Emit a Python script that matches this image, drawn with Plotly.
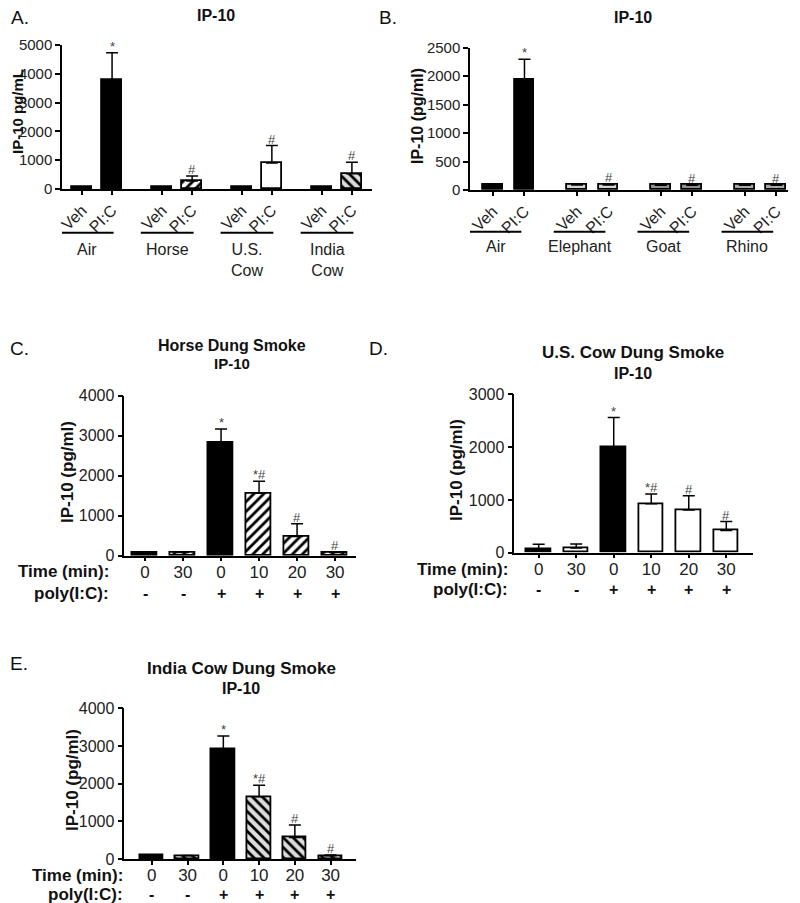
import plotly.graph_objects as go

# page body has an 8px margin; the figure starts at (8, 8) in the window
PAGE_W, PAGE_H, BODY = 800, 903, 8
W, H = PAGE_W - 2 * BODY, PAGE_H - BODY

# ---------------- data ----------------
A_groups = ["Air", "Horse", "U.S.<br>Cow", "India<br>Cow"]
A_veh = [60, 60, 60, 60]
A_veh_err = [8, 8, 10, 10]
A_pic = [3790, 280, 900, 530]
A_pic_err = [940, 170, 610, 400]
A_sig = ["*", "#", "#", "#"]

B_groups = ["Air", "Elephant", "Goat", "Rhino"]
B_veh = [85, 90, 85, 85]
B_veh_err = [8, 10, 8, 8]
B_pic = [1945, 90, 85, 85]
B_pic_err = [350, 12, 10, 10]
B_sig = ["*", "#", "#", "#"]

dose_labels = ["Veh", "PI:C"]
time_labels = ["0", "30", "0", "10", "20", "30"]
polyic_labels = ["-", "-", "+", "+", "+", "+"]

C_vals = [85, 80, 2830, 1560, 480, 80]
C_err = [10, 10, 340, 300, 320, 15]
C_sig = ["", "", "*", "*#", "#", "#"]

D_vals = [64, 90, 1990, 925, 810, 420]
D_err = [95, 75, 570, 185, 270, 170]
D_sig = ["", "", "*", "*#", "#", "#"]

E_vals = [95, 85, 2920, 1650, 570, 85]
E_err = [10, 10, 345, 310, 330, 20]
E_sig = ["", "", "*", "*#", "#", "#"]

# ---------------- helpers ----------------
FONT = "Arial, Liberation Sans, Helvetica, sans-serif"
TXT = "#222"


def fx(p):
    return (p - BODY) / W


def fy(p):
    return 1 - (p - BODY) / H


fig = go.Figure()
annotations = []
shapes = []


def axis_common():
    return dict(showline=True, linecolor="black", linewidth=1.5, ticks="outside",
                tickcolor="black", tickwidth=1.5, showgrid=False, zeroline=False,
                fixedrange=True, automargin=False)


def add_bars(xa, ya, xs, ys, errs, styles, width, sigs):
    for x, y, e, (col, pat), s in zip(xs, ys, errs, styles, sigs):
        marker = dict(color=col, line=dict(color="black", width=1.8))
        if pat:
            marker["pattern"] = dict(shape=pat, fgcolor="black", bgcolor=col,
                                     fgopacity=1, fillmode="replace", size=7, solidity=0.4)
        fig.add_trace(go.Bar(
            x=[x], y=[y], xaxis=xa, yaxis=ya, width=width, marker=marker,
            error_y=dict(type="data", symmetric=False, array=[e], arrayminus=[0],
                         color="black", thickness=1.5, width=6),
            showlegend=False, hoverinfo="skip"))
        if s:
            annotations.append(dict(x=x, y=y + e, xref=xa, yref=ya,
                                    text=s, showarrow=False, yanchor="bottom", yshift=-3,
                                    font=dict(size=13, color="#444", family=FONT)))


def axname(prefix, n):
    return prefix if n == 1 else f"{prefix}{n}"


# ---------------- panel A & B ----------------
grp_pos = [0, 2.67, 5.33, 8]
pos8 = []
for g in grp_pos:
    pos8 += [g, g + 1]


def panel_ab(n, groups, veh, veh_err, pic, pic_err, sigs, styles,
             xdom, xr, ydom, ymax, dtick, width, line_y, lab_y, off, half):
    xa, ya = axname("x", n), axname("y", n)
    ys, es, ss = [], [], []
    for i in range(4):
        ys += [veh[i], pic[i]]
        es += [veh_err[i], pic_err[i]]
        ss += ["", sigs[i]]
    add_bars(xa, ya, pos8, ys, es, styles, width, ss)
    fig.update_layout(**{
        axname("xaxis", n): dict(
            domain=xdom, range=xr, anchor=ya, tickvals=pos8,
            ticktext=dose_labels * 4, tickangle=-45, ticklen=4,
            tickfont=dict(size=16, color=TXT, family=FONT), **axis_common()),
        axname("yaxis", n): dict(
            domain=ydom, range=[0, ymax], anchor=xa, dtick=dtick, ticklen=5,
            tickfont=dict(size=15, color=TXT, family=FONT), **axis_common()),
    })
    for g, name in zip(grp_pos, groups):
        c = g + 0.5 + off
        shapes.append(dict(type="line", xref=xa, yref="paper", x0=c - half, x1=c + half,
                           y0=fy(line_y), y1=fy(line_y), line=dict(color="black", width=2)))
        annotations.append(dict(x=c, y=fy(lab_y), xref=xa, yref="paper", text=name,
                                showarrow=False, yanchor="top",
                                font=dict(size=16, color=TXT, family=FONT)))


HATCH_BG = "#dcdcdc"
A_styles = [("black", ""), ("black", ""), ("black", ""), ("white", "/"),
            ("black", ""), ("white", ""), ("black", ""), (HATCH_BG, "\\")]
panel_ab(1, A_groups, A_veh, A_veh_err, A_pic, A_pic_err, A_sig, A_styles,
         xdom=[fx(62), fx(372)], xr=[-0.67, 9.67], ydom=[fy(189), fy(45)],
         ymax=5000, dtick=1000, width=0.67, line_y=232.7, lab_y=239, off=-0.33, half=0.88)

B_styles = [("black", ""), ("black", ""), ("#d4d4d4", ""), ("#d4d4d4", ""),
            ("#8e8e8e", ""), ("#8e8e8e", ""), ("#a8a8a8", ""), ("#a8a8a8", "")]
panel_ab(2, B_groups, B_veh, B_veh_err, B_pic, B_pic_err, B_sig, B_styles,
         xdom=[fx(470), fx(788)], xr=[-0.73, 9.37], ydom=[fy(190), fy(47.7)],
         ymax=2500, dtick=500, width=0.63, line_y=231.7, lab_y=236, off=-0.42, half=0.82)

# ---------------- panels C, D, E ----------------
pos6 = list(range(6))


def panel_t(n, vals, errs, sigs, styles, xdom, xr, ydom, ymax, width, row_x, row_y):
    xa, ya = axname("x", n), axname("y", n)
    add_bars(xa, ya, pos6, vals, errs, styles, width, sigs)
    fig.update_layout(**{
        axname("xaxis", n): dict(domain=xdom, range=xr, anchor=ya, tickvals=pos6,
                                 ticktext=time_labels, ticklen=4, ticklabelstandoff=-4,
                                 tickfont=dict(size=17, color=TXT, family=FONT), **axis_common()),
        axname("yaxis", n): dict(domain=ydom, range=[0, ymax], anchor=xa, dtick=1000, ticklen=5,
                                 tickfont=dict(size=16, color=TXT, family=FONT), **axis_common()),
    })
    for x, p in zip(pos6, polyic_labels):
        annotations.append(dict(x=x, y=fy(row_y[1]), xref=xa, yref="paper",
                                text=f"<b>{p}</b>", showarrow=False, yanchor="middle",
                                font=dict(size=16, color="#111", family=FONT)))
    for lab, yy in zip(["Time (min):", "poly(I:C):"], row_y):
        annotations.append(dict(x=fx(row_x), y=fy(yy), xref="paper", yref="paper",
                                text=f"<b>{lab}</b>", showarrow=False, xanchor="right",
                                yanchor="middle", font=dict(size=17, color="#111", family=FONT)))


panel_t(3, C_vals, C_err, C_sig,
        [("black", ""), ("white", "/"), ("black", ""), ("white", "/"), ("white", "/"), ("white", "/")],
        xdom=[fx(124.3), fx(356)], xr=[-0.545, 5.55], ydom=[fy(555.7), fy(395.7)],
        ymax=4000, width=0.66, row_x=111, row_y=[571.7, 593])

panel_t(4, D_vals, D_err, D_sig,
        [("black", ""), ("white", ""), ("black", ""), ("white", ""), ("white", ""), ("white", "")],
        xdom=[fx(514.3), fx(753.3)], xr=[-0.65, 5.72], ydom=[fy(552.7), fy(394.3)],
        ymax=3000, width=0.65, row_x=510, row_y=[569, 589])

panel_t(5, E_vals, E_err, E_sig,
        [("black", ""), (HATCH_BG, "\\"), ("black", ""), (HATCH_BG, "\\"), (HATCH_BG, "\\"), (HATCH_BG, "\\")],
        xdom=[fx(124.3), fx(356)], xr=[-0.77, 5.71], ydom=[fy(859), fy(708.3)],
        ymax=4000, width=0.66, row_x=125, row_y=[875, 894])


# ---------------- titles / labels ----------------
def ann(x, y, text, size, bold=False, angle=0, xanchor="center", color="#111"):
    annotations.append(dict(x=fx(x), y=fy(y), xref="paper", yref="paper",
                            text=f"<b>{text}</b>" if bold else text, showarrow=False,
                            xanchor=xanchor, yanchor="middle", textangle=angle,
                            font=dict(size=size, color=color, family=FONT)))


for letter, x, y in [("A.", 9, 17), ("B.", 377, 17), ("C.", 8, 348), ("D.", 367, 348), ("E.", 8, 663)]:
    ann(x, y, letter, 19, xanchor="left")

ann(216, 16, "IP-10", 16, bold=True)
ann(633, 18, "IP-10", 16, bold=True)
ann(232, 345, "Horse Dung Smoke", 16, bold=True)
ann(232, 363, "IP-10", 15, bold=True)
ann(633, 352, "U.S. Cow Dung Smoke", 17, bold=True)
ann(633, 373, "IP-10", 16, bold=True)
ann(241, 668, "India Cow Dung Smoke", 17, bold=True)
ann(241, 688, "IP-10", 16, bold=True)

ann(18, 112, "IP-10 pg/mL", 15, bold=True, angle=-90)
ann(418, 116, "IP-10 (pg/ml)", 16, bold=True, angle=-90)
ann(67, 472, "IP-10 (pg/ml)", 17, bold=True, angle=-90)
ann(456, 470, "IP-10 (pg/ml)", 17, bold=True, angle=-90)
ann(72, 780, "IP-10 (pg/ml)", 17, bold=True, angle=-90)

fig.update_layout(template="none", width=W, height=H,
                  margin=dict(l=0, r=0, t=0, b=0, autoexpand=False), autosize=False,
                  plot_bgcolor="white", paper_bgcolor="white", bargap=0, barmode="overlay",
                  annotations=annotations, shapes=shapes, showlegend=False,
                  font=dict(family=FONT, color=TXT))

fig.write_html("out.html")
